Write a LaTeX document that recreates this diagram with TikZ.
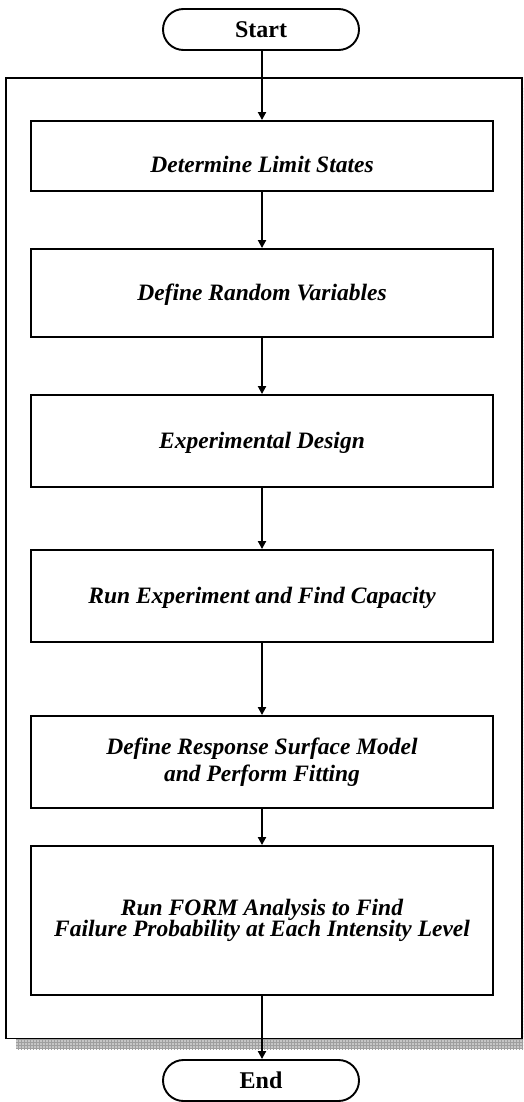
\documentclass[tikz,border=0pt]{standalone}
\usepackage{fontspec}
\setmainfont{Liberation Serif}
\usetikzlibrary{arrows.meta,shapes.misc,patterns}
\begin{document}
\begin{tikzpicture}[x=1pt,y=-1pt,
  line width=1.9pt,
  stepbox/.style={draw,rectangle,minimum width=462pt,inner sep=0pt,align=center,
    font=\fontsize{23.5}{26}\selectfont\bfseries\itshape},
  onebox/.style={stepbox,text height=15.5pt,text depth=0pt},
  term/.style={draw,rounded rectangle,minimum width=196pt,minimum height=41pt,inner sep=0pt,
    font=\fontsize{24}{26}\selectfont\bfseries},
  arr/.style={-{Triangle[length=8pt,width=8pt]},line width=1.9pt}]
\useasboundingbox (0,0) rectangle (523,1102);
\clip (0,0) rectangle (523,1102);
% shadow and frame
\fill[gray!45] (16,88) rectangle (540,1049);
\fill[pattern=grid,pattern color=gray!75] (16,88) rectangle (540,1049);
\draw[fill=white] (6,78) rectangle (522,1038.5);
% nodes
\node[term] (start) at (261,29.5) {Start};
\node[stepbox,minimum height=70pt,text height=52pt,text depth=18pt] (b1) at (262,156) {Determine Limit States};
\node[onebox,minimum height=88pt] (b2) at (262,293) {Define Random Variables};
\node[onebox,minimum height=92pt] (b3) at (262,441) {Experimental Design};
\node[onebox,minimum height=92pt] (b4) at (262,596) {Run Experiment and Find Capacity};
\node[stepbox,minimum height=92pt,font=\fontsize{23.5}{26.5}\selectfont\bfseries\itshape] (b5) at (262,762) {Define Response Surface Model\\and Perform Fitting};
\node[stepbox,minimum height=149pt,font=\fontsize{23.5}{21.5}\selectfont\bfseries\itshape] (b6) at (262,920.5) {Run FORM Analysis to Find\\Failure Probability at Each Intensity Level};
\node[term] (end) at (261,1080.5) {End};
% connectors
\draw[arr] (start.south -| b1.north) -- (b1.north);
\draw[arr] (b1) -- (b2);
\draw[arr] (b2) -- (b3);
\draw[arr] (b3) -- (b4);
\draw[arr] (b4) -- (b5);
\draw[arr] (b5) -- (b6);
\draw[arr] (b6.south) -- (b6.south |- end.north);
\end{tikzpicture}
\end{document}
